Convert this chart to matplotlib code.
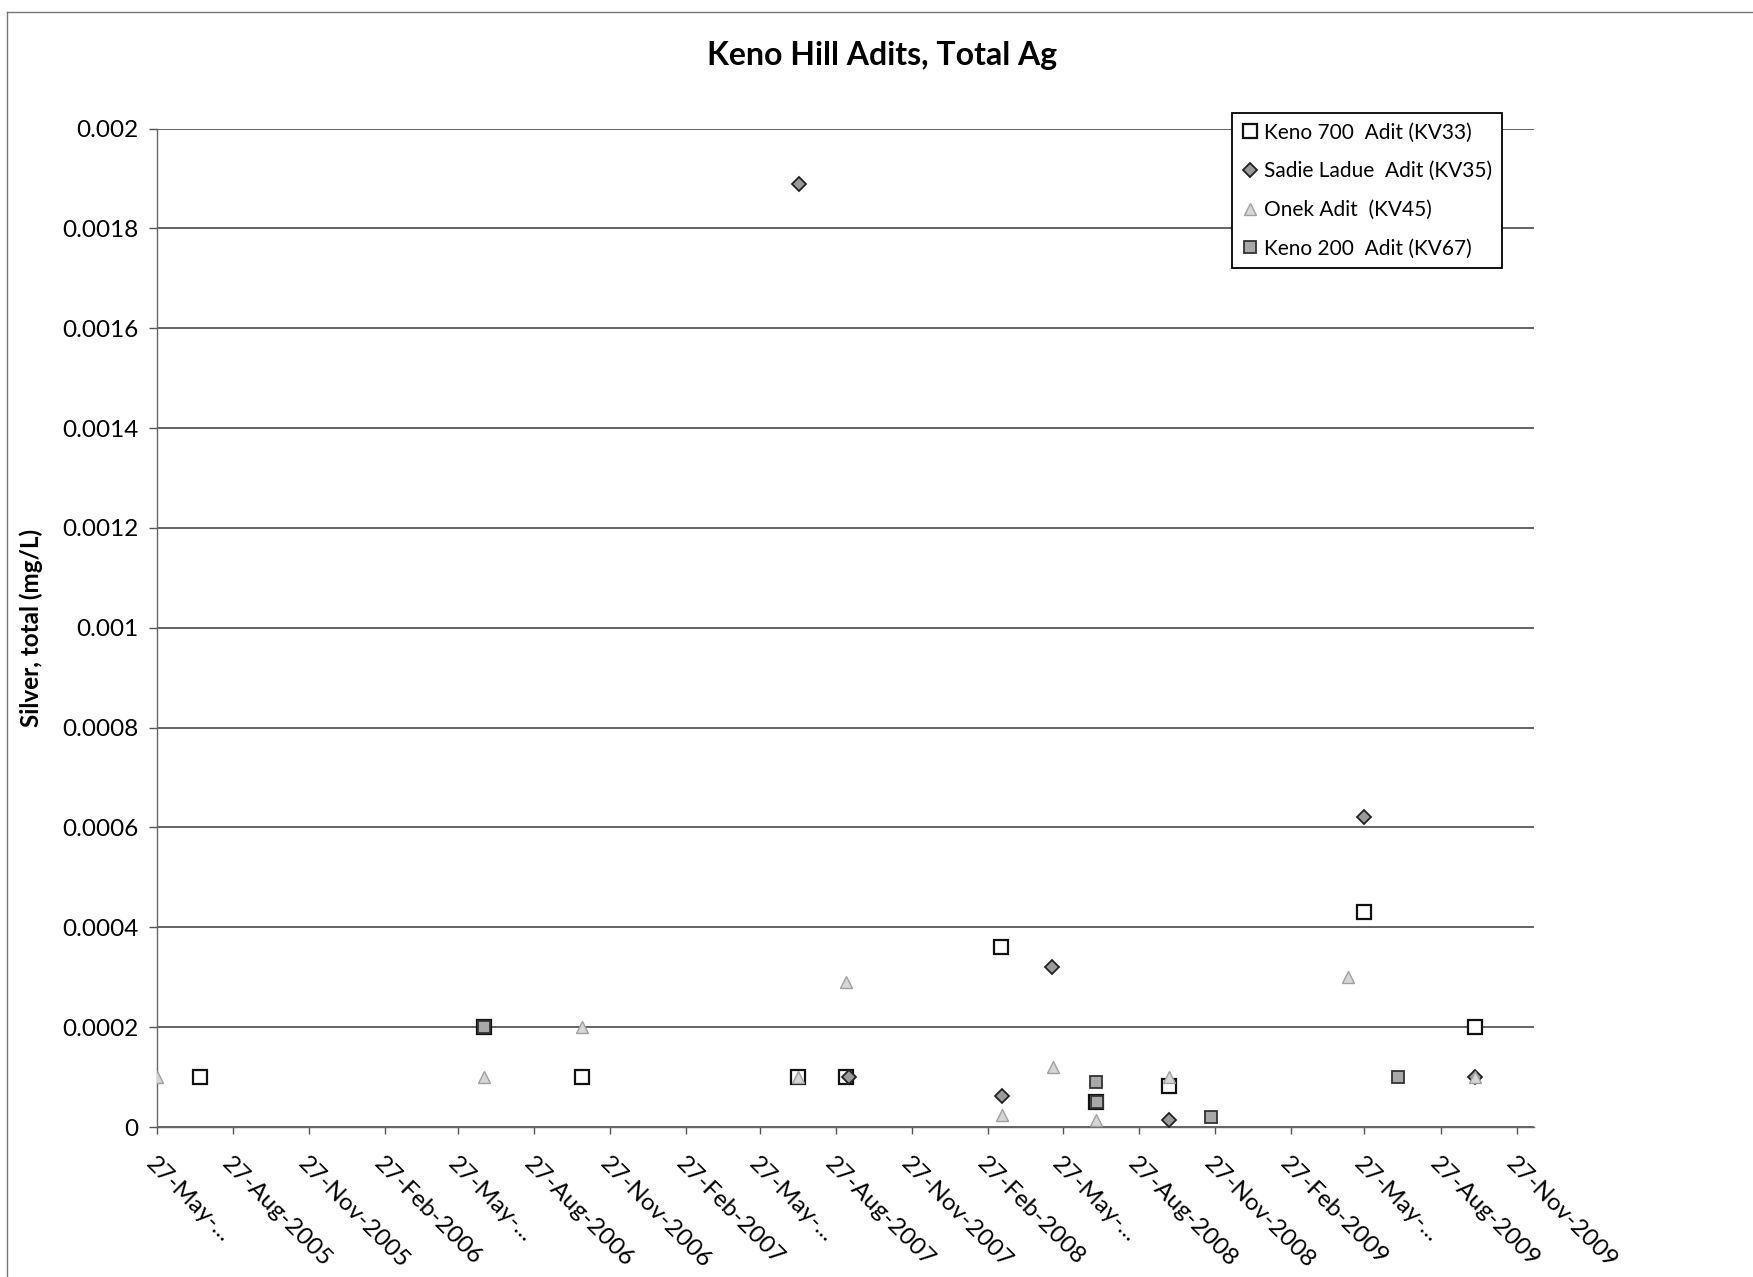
import numpy as np
import pandas as pd
import matplotlib
matplotlib.use("Agg")
import matplotlib.pyplot as plt
from matplotlib.lines import Line2D

plt.rcParams['font.family'] = ['Lato', 'DejaVu Sans']

# --- data ---
kv33_dates = ["2005-07-19", "2006-06-27", "2006-10-24", "2007-07-12", "2007-09-08",
              "2008-03-13", "2008-07-06", "2008-10-02", "2009-05-27", "2009-10-08"]
kv33_vals = [0.0001, 0.0002, 0.0001, 0.0001, 0.0001,
             0.00036, 0.00005, 0.000083, 0.00043, 0.0002]

kv35_dates = ["2007-07-13", "2007-09-12", "2008-03-14", "2008-05-14", "2008-10-02",
              "2009-05-27", "2009-10-08"]
kv35_vals = [0.00189, 0.0001, 0.000063, 0.00032, 0.000015, 0.00062, 0.0001]

kv45_dates = ["2005-05-27", "2006-06-27", "2006-10-24", "2007-07-12", "2007-09-08",
              "2008-03-15", "2008-05-15", "2008-07-06", "2008-10-03", "2009-05-07",
              "2009-10-08"]
kv45_vals = [0.0001, 0.0001, 0.0002, 0.0001, 0.00029,
             0.000025, 0.00012, 0.000014, 0.0001, 0.0003, 0.0001]

kv67_dates = ["2006-06-27", "2008-07-06", "2008-07-07", "2008-11-22", "2009-07-06"]
kv67_vals = [0.0002, 0.00009, 0.00005, 0.00002, 0.0001]

series_names = ["Keno 700  Adit (KV33)", "Sadie Ladue  Adit (KV35)",
                "Onek Adit  (KV45)", "Keno 200  Adit (KV67)"]

tick_labels = ["27-May-...", "27-Aug-2005", "27-Nov-2005", "27-Feb-2006",
               "27-May-...", "27-Aug-2006", "27-Nov-2006", "27-Feb-2007",
               "27-May-...", "27-Aug-2007", "27-Nov-2007", "27-Feb-2008",
               "27-May-...", "27-Aug-2008", "27-Nov-2008", "27-Feb-2009",
               "27-May-...", "27-Aug-2009", "27-Nov-2009"]
tick_dates = pd.date_range("2005-05-27", periods=len(tick_labels), freq=pd.DateOffset(months=3))
x_min, x_max = "2005-05-27", "2009-12-18"

W, H = 1753, 1277
fig = plt.figure(figsize=(W / 100, H / 100), dpi=100)
l, r, t, b = 156.5, 1534, 128.6, 1127
ax = fig.add_axes([l / W, 1 - b / H, (r - l) / W, (b - t) / H])

styles = [
    dict(marker="s", ms=9.5, mfc="white", mec="#111111", mew=1.6),
    dict(marker="D", ms=6.8, mfc="#9a9a9a", mec="#222222", mew=1.3),
    dict(marker="^", ms=8.5, mfc="#d6d6d6", mec="#a0a0a0", mew=1.0),
    dict(marker="s", ms=8.5, mfc="#a8a8a8", mec="#333333", mew=1.3),
]
all_dates = [kv33_dates, kv35_dates, kv45_dates, kv67_dates]
all_vals = [kv33_vals, kv35_vals, kv45_vals, kv67_vals]
for name, d, v, st in zip(series_names, all_dates, all_vals, styles):
    ax.plot(pd.to_datetime(d), v, linestyle="none", label=name, zorder=3, **st)

ax.set_xlim(pd.Timestamp(x_min), pd.Timestamp(x_max))
ax.set_ylim(0, 0.002)
ax.set_yticks(np.arange(0, 0.00201, 0.0002))
ax.set_yticklabels(["0", "0.0002", "0.0004", "0.0006", "0.0008", "0.001",
                    "0.0012", "0.0014", "0.0016", "0.0018", "0.002"])
ax.set_xticks(tick_dates)
ax.set_xticklabels(tick_labels, rotation=-45, ha="left", va="top",
                   rotation_mode="anchor")
ax.tick_params(axis="x", length=5, width=1, color="#555555", pad=14, labelsize=17.5)
ax.tick_params(axis="y", length=6, width=1, color="#555555", pad=7, labelsize=17.5)

ax.yaxis.grid(True, color="#3a3a3a", lw=1.1)
ax.set_axisbelow(True)
for s in ["top", "right"]:
    ax.spines[s].set_visible(False)
for s in ["left", "bottom"]:
    ax.spines[s].set_color("#666666")
    ax.spines[s].set_linewidth(1.0)

ax.set_ylabel("Silver, total (mg/L)", fontsize=17.5, fontweight="bold", labelpad=14)
fig.text(882 / W, 1 - 55 / H, "Keno Hill Adits, Total Ag", ha="center", va="center",
         fontsize=23, fontweight="bold")

leg = ax.legend(loc="upper left", bbox_to_anchor=(1232 / W, 1 - 113 / H),
                bbox_transform=fig.transFigure, fontsize=15, frameon=True,
                fancybox=False, borderaxespad=0, handlelength=0.8,
                handletextpad=0.3, labelspacing=0.9, borderpad=0.45, numpoints=1)
leg.get_frame().set_edgecolor("black")
leg.get_frame().set_linewidth(1.3)
leg.get_frame().set_alpha(1)

# outer chart border (left and top edges visible in the scan)
fig.add_artist(Line2D([7 / W, 7 / W], [0, 1 - 12 / H], color="#777777", lw=1))
fig.add_artist(Line2D([7 / W, 1], [1 - 12 / H, 1 - 12 / H], color="#777777", lw=1))

fig.savefig("out.png", dpi=100)
